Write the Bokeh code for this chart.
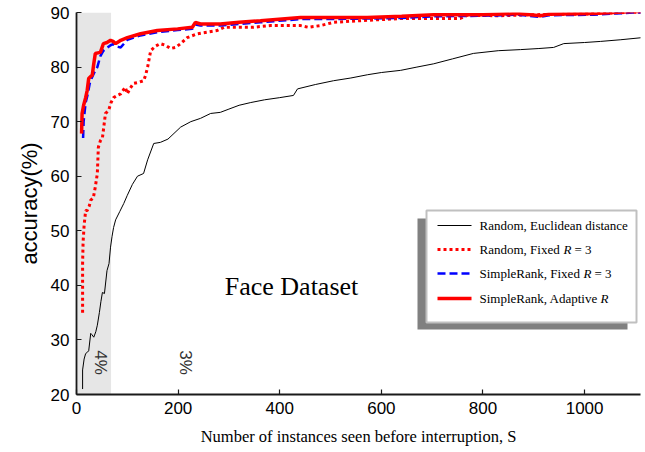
import math
from bokeh.plotting import figure
from bokeh.models import Range1d, BoxAnnotation, FixedTicker, Title
from bokeh.core.properties import value
from bokeh.embed import file_html
from bokeh.resources import INLINE

# ---------------- data ----------------
x_black = [12, 12, 15, 18, 22, 24, 28, 30, 34, 38, 41, 45, 48, 51, 55, 60, 64, 67, 70, 73, 77, 85, 93,
           100, 110, 120, 132, 140, 152, 165, 180, 205, 225, 244, 264, 283, 300, 320, 343, 370, 400,
           427, 435, 470, 506, 540, 573, 600, 638, 670, 703, 740, 781, 830, 874, 910, 939, 959, 1000,
           1031, 1070, 1114]
y_black = [21, 24.5, 26.5, 27.5, 27.8, 28, 31.2, 31, 30.5, 31.5, 32.7, 35, 37, 38.7, 38.5, 42.7, 44, 47,
           49, 50.6, 52, 53.5, 55, 56.5, 58.5, 60, 60.5, 63, 66, 66.2, 66.8, 69, 70, 70.6, 71.5, 71.7,
           72.3, 73, 73.5, 74, 74.4, 74.8, 76, 76.8, 77.5, 78, 78.6, 79, 79.4, 80, 80.6, 81.5, 82.5, 83,
           83.2, 83.4, 83.6, 84.3, 84.5, 84.7, 85, 85.4]

x_rdot = [12, 12, 13, 15, 18, 21, 25, 28, 33, 37, 41, 43, 47, 51, 57, 63, 68, 73, 80, 87, 96, 100, 105,
          112, 122, 132, 136, 140, 146, 155, 165, 175, 185, 195, 205, 218, 238, 250, 277, 291, 348, 382,
          441, 456, 480, 506, 539, 600, 638, 703, 755, 769, 830, 900, 1000, 1050, 1114]
y_rdot = [35, 44, 48, 51, 53.7, 53.7, 54.5, 55.6, 56, 58, 60.5, 65.3, 66.5, 67, 71.5, 72, 73.5, 74.4, 74.8,
          75.1, 76.3, 75.1, 76, 77, 77.2, 77.5, 78.5, 80, 83, 83.8, 84.3, 84, 83.4, 83.6, 84.3, 85.4, 86.1,
          86.3, 86.7, 87.3, 87.3, 87.6, 87.6, 87.3, 87.6, 88.2, 88.4, 88.7, 88.9, 88.9, 88.9, 89.5, 89.4,
          89.6, 89.7, 89.9, 90.1]

x_blue = [13, 14, 18, 22, 26, 30, 35, 41, 47, 53, 60, 67, 72, 77, 82, 87, 100, 126, 159, 199, 228, 234,
          244, 283, 320, 362, 441, 506, 572, 640, 703, 800, 868, 913, 930, 1018, 1096, 1114]
y_blue = [67, 70, 73.5, 75, 77, 78, 79, 80, 82, 83, 83.5, 84, 84.2, 83.8, 83.7, 83.6, 85, 85.8, 86.4, 86.8,
          87, 87.8, 87.6, 87.6, 87.9, 88.2, 88.8, 88.8, 88.9, 89, 89.3, 89.4, 89.6, 89.2, 89.5, 89.6, 90, 90]

x_rsol = [10, 11, 14, 18, 21, 24, 28, 31, 34, 37, 42, 47, 53, 60, 67, 72, 77, 82, 87, 100, 126, 159, 199,
          228, 234, 244, 283, 320, 362, 441, 506, 572, 640, 703, 800, 868, 913, 930, 1018, 1096, 1114]
y_rsol = [67.8, 71.5, 73, 74.4, 75.7, 77.9, 78.3, 78.5, 80.6, 82.5, 82.6, 82.7, 84.3, 84.5, 84.9, 84.7,
          84.3, 84.6, 84.9, 85.4, 86.1, 86.7, 87, 87.3, 88.2, 87.9, 87.9, 88.2, 88.5, 89.1, 89.1, 89.1,
          89.3, 89.6, 89.6, 89.8, 89.4, 89.7, 89.8, 90.2, 90.2]

shade_range = [0, 68]
x_ticks = [0, 200, 400, 600, 800, 1000]
y_ticks = [20, 30, 40, 50, 60, 70, 80, 90]
legend_labels = ["Random, Euclidean distance", "Random, Fixed", "SimpleRank, Fixed", "SimpleRank, Adaptive"]

X0, X1 = 0, 1110
Y0, Y1 = 20, 90

# frame geometry (pixels)
FL, FT, FW, FH = 76, 12, 564, 382
W, H = 645, 452


def sx(px):
    return X0 + (px - FL) / FW * (X1 - X0)


def sy(py):
    return Y1 - (py - FT) / FH * (Y1 - Y0)


p = figure(width=W, height=H, output_backend="svg", toolbar_location=None,
           x_range=Range1d(X0, X1), y_range=Range1d(Y0, Y1),
           min_border_left=FL, min_border_right=W - FL - FW,
           min_border_top=FT, min_border_bottom=H - FT - FH)
p.outline_line_color = None
p.grid.visible = False
p.background_fill_color = "white"
p.border_fill_color = "white"

p.add_layout(BoxAnnotation(left=shade_range[0], right=shade_range[1], fill_color="#e6e6e6",
                           fill_alpha=1.0, line_color=None, level="underlay"))

SANS = "Liberation Sans"
SERIF = "Liberation Serif"

for ax in (p.xaxis[0], p.yaxis[0]):
    ax.axis_line_color = "#1a1a1a"
    ax.axis_line_width = 1.8
    ax.major_tick_line_color = "#1a1a1a"
    ax.major_tick_line_width = 1.2
    ax.major_tick_in = 5
    ax.major_tick_out = 0
    ax.minor_tick_line_color = None
    ax.major_label_text_font = SANS
    ax.major_label_text_font_size = "17px"
    ax.major_label_text_color = "black"
    ax.major_label_standoff = 7

p.xaxis.ticker = FixedTicker(ticks=x_ticks)
p.yaxis.ticker = FixedTicker(ticks=y_ticks)
p.xaxis.axis_label = "Number of instances seen before interruption, S"
p.xaxis.axis_label_text_font = SERIF
p.xaxis.axis_label_text_font_size = "16.5px"
p.xaxis.axis_label_text_font_style = "normal"
p.xaxis.axis_label_text_color = "black"
p.xaxis.axis_label_standoff = 10

# y-axis title, placed above the axis centre as in the original
p.add_layout(Title(text="accuracy(%)", align="center", offset=23, text_font=SANS,
                   text_font_size="22px", text_font_style="normal", text_color="black",
                   standoff=12), "left")

# series
p.line(x_black, y_black, line_color="black", line_width=1)
p.line(x_rdot, y_rdot, line_color="#ff0000", line_width=3, line_dash="3 3")
p.line(x_blue, y_blue, line_color="#0000ff", line_width=2.5, line_dash="8 4")
p.line(x_rsol, y_rsol, line_color="#ff0000", line_width=3.5)

# annotations
p.text(x=[sx(99.5)], y=[sy(362)], text=["4%"], angle=-math.pi / 2, text_font=value(SANS),
       text_font_size="17px", text_color="#333333", text_align="center", text_baseline="middle")
p.text(x=[sx(185)], y=[sy(362)], text=["3%"], angle=-math.pi / 2, text_font=value(SANS),
       text_font_size="17px", text_color="#333333", text_align="center", text_baseline="middle")
p.text(x=[sx(291)], y=[sy(286)], text=["Face Dataset"], text_font=value(SERIF),
       text_font_size="26px", text_color="black", text_align="center", text_baseline="middle")

# legend (drawn manually)
p.quad(left=[sx(417)], right=[sx(627)], top=[sy(218)], bottom=[sy(329)],
       fill_color="#808080", line_color=None)
p.quad(left=[sx(426)], right=[sx(636)], top=[sy(210)], bottom=[sy(322)],
       fill_color="white", line_color="#c0c0c0", line_width=2)

rows = [225, 249, 273, 298]
lx0, lx1 = sx(437), sx(471)
p.line([lx0, lx1], [sy(rows[0])] * 2, line_color="black", line_width=1)
p.line([lx0, lx1], [sy(rows[1])] * 2, line_color="#ff0000", line_width=3, line_dash="3 3")
p.line([lx0, lx1], [sy(rows[2])] * 2, line_color="#0000ff", line_width=2.5, line_dash="8 4")
p.line([lx0, lx1], [sy(rows[3])] * 2, line_color="#ff0000", line_width=3.5)

tx = sx(479)
for lab, r in zip(legend_labels, rows):
    p.text(x=[tx], y=[sy(r)], text=[lab], text_font=value(SERIF), text_font_size="13px",
           text_color="black", text_align="left", text_baseline="middle")

r_pos = [(563, 574, rows[1]), (583, 594, rows[2]), (600, None, rows[3])]
for rx, ex, r in r_pos:
    p.text(x=[sx(rx)], y=[sy(r)], text=["R"], text_font=value(SERIF), text_font_size="13px",
           text_font_style="italic", text_color="black", text_align="left", text_baseline="middle")
    if ex is not None:
        p.text(x=[sx(ex)], y=[sy(r)], text=["= 3"], text_font=value(SERIF), text_font_size="13px",
               text_color="black", text_align="left", text_baseline="middle")

open("out.html", "w").write(file_html(p, INLINE))
